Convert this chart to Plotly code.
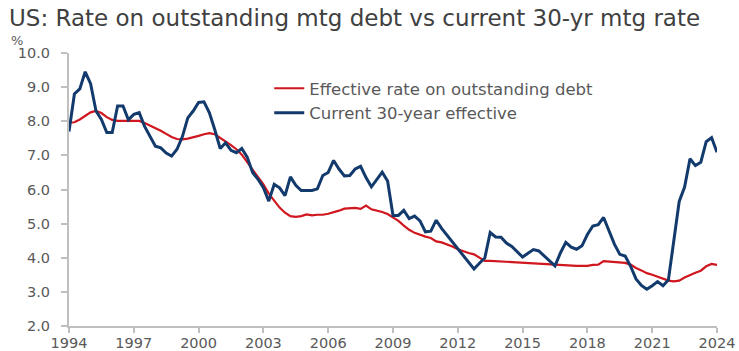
import plotly.graph_objects as go

# Quarterly observations, 1994Q1 .. 2024Q1 (decimal years)
start_year = 1994
quarters = 121

# Current 30-year effective mortgage rate, %
current_30yr = [
    7.70, 8.80, 8.95, 9.45, 9.10, 8.30, 8.05, 7.67,   # 1994-1995
    7.67, 8.45, 8.45, 8.04, 8.20, 8.25, 7.85, 7.57,   # 1996-1997
    7.27, 7.22, 7.07, 6.98, 7.18, 7.55, 8.10, 8.30,   # 1998-1999
    8.55, 8.57, 8.25, 7.75, 7.20, 7.37, 7.15, 7.08,   # 2000-2001
    7.20, 6.95, 6.50, 6.30, 6.05, 5.66, 6.15, 6.05,   # 2002-2003
    5.82, 6.37, 6.12, 5.97, 5.96, 5.97, 6.02, 6.41,   # 2004-2005
    6.50, 6.85, 6.60, 6.40, 6.41, 6.60, 6.68, 6.35,   # 2006-2007
    6.08, 6.31, 6.51, 6.25, 5.24, 5.24, 5.39, 5.15,   # 2008-2009
    5.22, 5.08, 4.76, 4.78, 5.10, 4.86, 4.66, 4.47,   # 2010-2011
    4.28, 4.06, 3.85, 3.67, 3.84, 3.99, 4.74, 4.61,   # 2012-2013
    4.60, 4.43, 4.33, 4.18, 4.02, 4.13, 4.24, 4.20,   # 2014-2015
    4.06, 3.92, 3.76, 4.14, 4.45, 4.31, 4.25, 4.35,   # 2016-2017
    4.68, 4.93, 4.97, 5.18, 4.80, 4.40, 4.10, 4.05,   # 2018-2019
    3.75, 3.38, 3.19, 3.08, 3.18, 3.30, 3.18, 3.35,   # 2020-2021
    4.50, 5.65, 6.07, 6.90, 6.70, 6.80, 7.40, 7.52,   # 2022-2023
    7.09,                                             # 2024
]

# Effective rate on outstanding mortgage debt, %
outstanding = [
    7.96, 7.97, 8.05, 8.15, 8.26, 8.30, 8.24, 8.12,   # 1994-1995
    8.04, 8.01, 8.01, 8.01, 8.01, 8.01, 7.95, 7.88,   # 1996-1997
    7.80, 7.72, 7.63, 7.54, 7.48, 7.47, 7.49, 7.52,   # 1998-1999
    7.57, 7.62, 7.65, 7.62, 7.52, 7.41, 7.30, 7.18,   # 2000-2001
    7.02, 6.80, 6.58, 6.37, 6.15, 5.88, 5.66, 5.47,   # 2002-2003
    5.32, 5.22, 5.20, 5.22, 5.27, 5.24, 5.26, 5.26,   # 2004-2005
    5.29, 5.33, 5.38, 5.44, 5.46, 5.46, 5.43, 5.53,   # 2006-2007
    5.42, 5.39, 5.34, 5.28, 5.19, 5.08, 4.94, 4.82,   # 2008-2009
    4.73, 4.67, 4.62, 4.58, 4.48, 4.45, 4.40, 4.33,   # 2010-2011
    4.25, 4.19, 4.14, 4.10, 4.00, 3.91, 3.91, 3.90,   # 2012-2013
    3.88, 3.89, 3.87, 3.86, 3.86, 3.83, 3.84, 3.82,   # 2014-2015
    3.80, 3.81, 3.79, 3.78, 3.77, 3.76, 3.76, 3.76,   # 2016-2017
    3.76, 3.79, 3.80, 3.90, 3.89, 3.88, 3.87, 3.85,   # 2018-2019
    3.80, 3.70, 3.63, 3.55, 3.50, 3.45, 3.40, 3.33,   # 2020-2021
    3.31, 3.33, 3.42, 3.50, 3.56, 3.62, 3.75, 3.82,   # 2022-2023
    3.79,                                             # 2024
]

x_years = [start_year + i / 4 for i in range(quarters)]

tick_years = [1994, 1997, 2000, 2003, 2006, 2009, 2012, 2015, 2018, 2021, 2024]
tick_labels = [str(y) for y in tick_years]
y_ticks = [2, 3, 4, 5, 6, 7, 8, 9, 10]

RED = "#d0161e"
BLUE = "#133a6c"
AXIS = "#bfbfbf"
TEXT = "#595959"
FONT = "DejaVu Sans"

fig = go.Figure()
fig.add_trace(go.Scatter(
    x=x_years, y=outstanding, mode="lines",
    name="Effective rate on outstanding debt",
    line=dict(color=RED, width=2.2),
))
fig.add_trace(go.Scatter(
    x=x_years, y=current_30yr, mode="lines",
    name="Current 30-year effective",
    line=dict(color=BLUE, width=3),
))

fig.update_layout(
    width=739, height=351,
    margin=dict(l=69, r=22, t=53, b=25, autoexpand=False),
    paper_bgcolor="white", plot_bgcolor="white",
    font=dict(family=FONT, color=TEXT, size=14),
    showlegend=True,
    legend=dict(
        x=0.309, y=0.934, xanchor="left", yanchor="top",
        bgcolor="rgba(0,0,0,0)", font=dict(family=FONT, size=16.5, color=TEXT),
        tracegroupgap=0, itemwidth=30,
    ),
    annotations=[
        dict(text="US: Rate on outstanding mtg debt vs current 30-yr mtg rate",
             xref="paper", yref="paper", x=-0.0955, y=1.0, yshift=35,
             xanchor="left", yanchor="middle", showarrow=False,
             font=dict(family=FONT, size=23, color="#404040")),
        dict(text="%", xref="paper", yref="paper", x=-0.093, y=1.0, yshift=13,
             xanchor="left", yanchor="middle", showarrow=False,
             font=dict(family=FONT, size=13, color=TEXT)),
    ],
)

fig.update_xaxes(
    range=[1994, 2024], tickmode="array", tickvals=tick_years, ticktext=tick_labels,
    showgrid=False, zeroline=False, showline=True, linecolor=AXIS, linewidth=2,
    ticks="outside", ticklen=5, tickcolor=AXIS, tickwidth=1.5,
    tickfont=dict(family=FONT, size=14.5, color=TEXT), automargin=False,
    ticklabelstandoff=-2,
)
fig.update_yaxes(
    range=[2, 10], tickmode="array", tickvals=y_ticks, tickformat=".1f",
    showgrid=False, zeroline=False, showline=True, linecolor=AXIS, linewidth=2,
    ticks="outside", ticklen=6, tickcolor=AXIS, tickwidth=1.5,
    tickfont=dict(family=FONT, size=14.5, color=TEXT), automargin=False,
    ticklabelstandoff=8,
)

fig.write_html("out.html")
